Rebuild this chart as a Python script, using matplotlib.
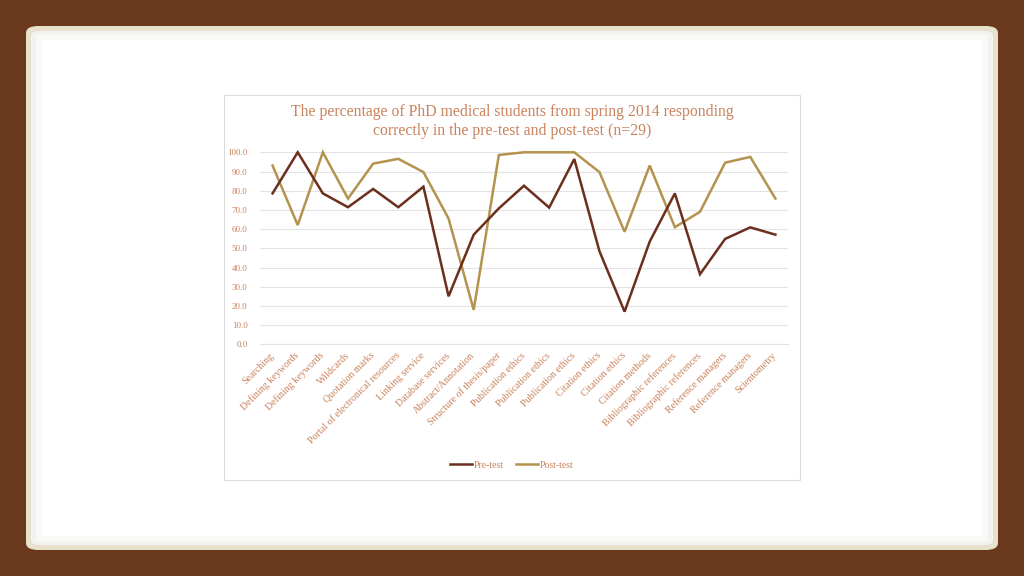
import matplotlib
matplotlib.use("Agg")
import matplotlib.pyplot as plt
from matplotlib.patches import FancyBboxPatch, Rectangle

categories = ["Searching", "Defining keywords", "Defining keywords", "Wildcards",
              "Quotation marks", "Portal of electronical resources", "Linking service",
              "Database services", "Abstract/Annotation", "Structure of thesis/paper",
              "Publication ethics", "Publication ethics", "Publication ethics",
              "Citation ethics", "Citation ethics", "Citation methods",
              "Bibliographic references", "Bibliographic references",
              "Reference managers", "Reference managers", "Scientometry"]
pre_test = [78.6, 100.0, 78.6, 71.4, 80.9, 71.4, 82.1, 25.0, 57.1, 70.8, 82.6,
            71.2, 96.5, 48.5, 17.0, 53.5, 78.6, 36.5, 54.9, 60.9, 57.1]
post_test = [93.1, 62.1, 100.0, 75.9, 94.1, 96.6, 89.7, 65.5, 17.9, 98.6, 100.0,
             100.0, 100.0, 89.7, 58.6, 93.1, 61.0, 69.0, 94.6, 97.6, 75.9]
y_ticks = [0, 10, 20, 30, 40, 50, 60, 70, 80, 90, 100]
title = "The percentage of PhD medical students from spring 2014 responding\ncorrectly in the pre-test and post-test (n=29)"

W, H = 1024, 576
fig = plt.figure(figsize=(W / 100, H / 100), dpi=100)
fig.patch.set_facecolor("#6A391D")

def fx(x):
    return x / W

def fy(y):
    return 1 - y / H

# white panel with cream rim
rim = FancyBboxPatch((fx(26), fy(550)), fx(972), 524 / H,
                     boxstyle="round,pad=0,rounding_size=0.012",
                     transform=fig.transFigure, facecolor="#E8E1CB",
                     edgecolor="none", zorder=-10)
fig.patches.append(rim)
inner = FancyBboxPatch((fx(31), fy(545)), fx(962), 514 / H,
                       boxstyle="round,pad=0,rounding_size=0.008",
                       transform=fig.transFigure, facecolor="#F2F2EE",
                       edgecolor="none", zorder=-9)
fig.patches.append(inner)
inner_mid = Rectangle((fx(36), fy(541)), fx(952), 506 / H,
                      transform=fig.transFigure, facecolor="#F9F9F7",
                      edgecolor="none", zorder=-8.5)
fig.patches.append(inner_mid)
inner2 = Rectangle((fx(42), fy(536)), fx(940), 496 / H,
                   transform=fig.transFigure, facecolor="white",
                   edgecolor="none", zorder=-8)
fig.patches.append(inner2)

# chart box
box = Rectangle((fx(224), fy(480)), fx(576), 385 / H,
                transform=fig.transFigure, facecolor="white",
                edgecolor="#DCDCDC", linewidth=0.8, zorder=-7)
fig.patches.append(box)

text_color = "#C9825C"
serif = ["Liberation Serif", "DejaVu Serif"]

ax = fig.add_axes([fx(260), fy(344.3), fx(528), 192 / H])
ax.set_zorder(5)
ax.set_facecolor("none")
x = list(range(len(categories)))
ax.plot(x, pre_test, color="#6B2F1E", linewidth=1.8, label="Pre-test",
        solid_joinstyle="miter", clip_on=False, zorder=3)
ax.plot(x, post_test, color="#B4934F", linewidth=1.8, label="Post-test",
        solid_joinstyle="miter", clip_on=False, zorder=2)

ax.set_xlim(-0.5, len(categories) - 0.5)
ax.set_ylim(0, 100)
ax.set_yticks(y_ticks)
ax.set_yticklabels([f"{v:.1f}" for v in y_ticks], fontsize=6.5,
                   color=text_color, family=serif)
ax.yaxis.grid(True, color="#E3E3E3", linewidth=0.8)
ax.axhline(0, color="#E3E3E3", linewidth=0.8, clip_on=False, zorder=0)
ax.set_axisbelow(True)
ax.tick_params(axis="both", length=0)
ax.tick_params(axis="y", pad=9)
ax.set_xticks(x)
ax.set_xticklabels(categories, rotation=45, ha="right", va="center",
                   rotation_mode="anchor", fontsize=7.2, color=text_color,
                   family=serif)
ax.tick_params(axis="x", pad=7)
for s in ax.spines.values():
    s.set_visible(False)

lines = title.split("\n")
fig.text(0.5, fy(112), lines[0], ha="center", va="center",
         fontsize=11.3, color=text_color, family=serif)
fig.text(0.5, fy(131), lines[1], ha="center", va="center",
         fontsize=11.3, color=text_color, family=serif)

leg = fig.legend(loc="center", bbox_to_anchor=(0.5, fy(465)), ncol=2,
                 frameon=False, handlelength=2.2, handletextpad=0.2,
                 columnspacing=1.3, prop={"family": serif, "size": 7})
for t in leg.get_texts():
    t.set_color(text_color)

fig.savefig("out.png", dpi=100, facecolor=fig.get_facecolor())
